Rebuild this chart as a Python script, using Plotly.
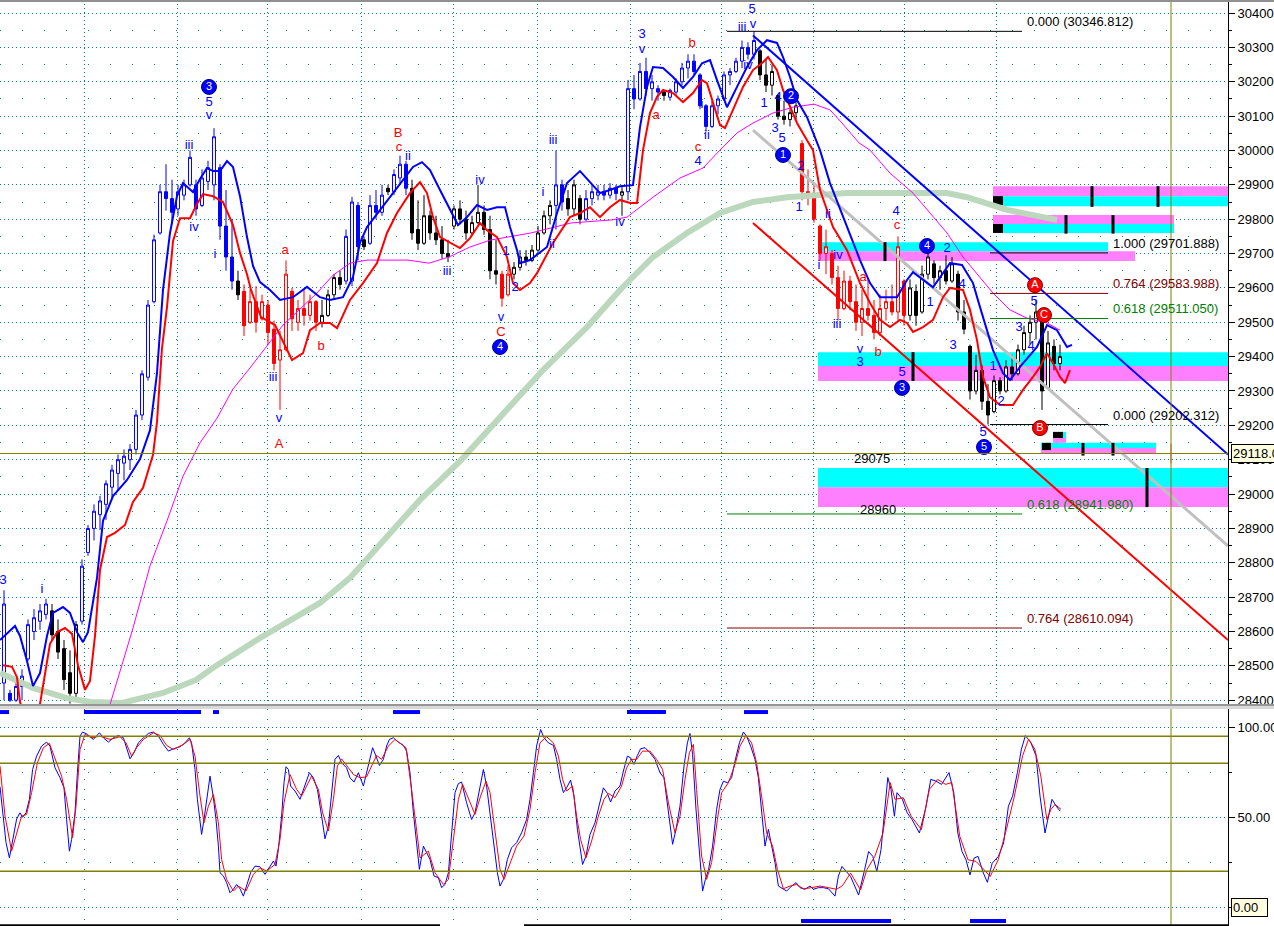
import plotly.graph_objects as go

FONT = "Liberation Sans, Arial, sans-serif"
TEAL = "#008080"
OLIVE = "#808000"
CYAN = "#00ffff"
PINK = "#ff80ff"

# ---------------- price bars: one candle every 3 time steps ----------------
OPEN = [28450, 28420, 28400, 28440, 28520, 28600, 28630, 28650, 28660, 28600,
        28550, 28480, 28420, 28630, 28830, 28900, 28940, 28970, 29020, 29060,
        29090, 29100, 29130, 29230, 29340, 29560, 29760, 29880, 29860, 29830,
        29870, 29900, 29900, 29840, 29910, 29900, 29950, 29780, 29690, 29620,
        29590, 29500, 29560, 29510, 29550, 29480, 29390, 29420, 29590, 29500,
        29540, 29520, 29560, 29500, 29520, 29580, 29630, 29620, 29620, 29840,
        29740, 29730, 29840, 29820, 29890, 29880, 29920, 29960, 29890, 29770,
        29730, 29810, 29760, 29740, 29700, 29780, 29830, 29800, 29760, 29790,
        29820, 29770, 29650, 29640, 29580, 29640, 29660, 29690, 29680, 29710,
        29760, 29810, 29840, 29900, 29860, 29830, 29860, 29800, 29860, 29870,
        29880, 29870, 29890, 29870, 29880, 30180, 30150, 30230, 30180, 30180,
        30170, 30155, 30170, 30200, 30240, 30260, 30220, 30130, 30070, 30130,
        30150, 30220, 30230, 30260, 30300, 30280, 30290, 30220, 30190, 30160,
        30100, 30090, 30110, 30020, 29880, 29870, 29780, 29700, 29700, 29630,
        29540, 29620, 29560, 29500, 29540, 29520, 29470, 29540, 29560, 29530,
        29620, 29520, 29590, 29530, 29640, 29670, 29630, 29650, 29620, 29640,
        29530, 29430, 29300, 29360, 29270, 29240, 29330, 29300, 29370, 29350,
        29420, 29470, 29500, 29510, 29310, 29430, 29380]
HIGH = [28720, 28430, 28460, 28490, 28635, 28665, 28680, 28695, 28680, 28635,
        28575, 28545, 28630, 28810, 28910, 28970, 28995, 29040, 29085, 29115,
        29130, 29145, 29245, 29360, 29565, 29755, 29900, 29960, 29915, 29900,
        29915, 30000, 29915, 29945, 29970, 30065, 29960, 29885, 29800, 29650,
        29610, 29595, 29605, 29580, 29565, 29505, 29475, 29680, 29600, 29565,
        29595, 29580, 29565, 29565, 29595, 29640, 29650, 29770, 29865, 29850,
        29750, 29870, 29885, 29900, 29900, 29945, 29985, 29970, 29915, 29855,
        29870, 29825, 29810, 29780, 29740, 29840, 29855, 29825, 29810, 29900,
        29840, 29810, 29740, 29650, 29665, 29675, 29710, 29710, 29725, 29780,
        29825, 29855, 30000, 29915, 29885, 29915, 29870, 29885, 29900, 29900,
        29900, 29905, 29900, 29900, 30205, 30220, 30255, 30270, 30220, 30190,
        30175, 30180, 30210, 30255, 30280, 30280, 30225, 30135, 30145, 30160,
        30230, 30240, 30270, 30320, 30315, 30346.8, 30295, 30265, 30250, 30165,
        30145, 30120, 30145, 30030, 29945, 29900, 29785, 29770, 29710, 29665,
        29650, 29635, 29610, 29595, 29625, 29565, 29580, 29595, 29610, 29750,
        29625, 29625, 29610, 29665, 29710, 29680, 29665, 29695, 29690, 29650,
        29565, 29435, 29405, 29375, 29320, 29345, 29340, 29390, 29405, 29435,
        29490, 29520, 29565, 29520, 29475, 29450, 29435]
LOW = [28400, 28395, 28395, 28400, 28515, 28575, 28605, 28635, 28575, 28520,
       28430, 28390, 28395, 28620, 28820, 28865, 28895, 28925, 28985, 29010,
       29040, 29070, 29115, 29215, 29330, 29555, 29755, 29825, 29785, 29810,
       29855, 29895, 29810, 29835, 29885, 29855, 29740, 29650, 29595, 29565,
       29460, 29495, 29470, 29505, 29435, 29360, 29245, 29415, 29475, 29475,
       29490, 29505, 29475, 29485, 29515, 29565, 29595, 29610, 29605, 29680,
       29710, 29725, 29800, 29810, 29870, 29870, 29900, 29870, 29740, 29710,
       29725, 29740, 29725, 29685, 29675, 29770, 29785, 29740, 29755, 29785,
       29755, 29625, 29610, 29545, 29575, 29625, 29650, 29665, 29675, 29705,
       29755, 29785, 29770, 29825, 29810, 29810, 29785, 29795, 29840, 29855,
       29855, 29860, 29855, 29810, 29855, 30120, 30145, 30160, 30145, 30145,
       30145, 30145, 30160, 30190, 30210, 30220, 30120, 30055, 30065, 30105,
       30145, 30190, 30225, 30240, 30265, 30265, 30205, 30170, 30160, 30090,
       30075, 30070, 30090, 29855, 29840, 29790, 29680, 29640, 29610, 29505,
       29535, 29535, 29475, 29460, 29505, 29450, 29460, 29505, 29520, 29505,
       29490, 29505, 29490, 29525, 29625, 29610, 29595, 29610, 29615, 29505,
       29465, 29275, 29290, 29245, 29202.3, 29235, 29290, 29295, 29330, 29345,
       29405, 29435, 29450, 29245, 29305, 29360, 29360]
CLOSE = [28680, 28400, 28440, 28470, 28620, 28640, 28660, 28680, 28590, 28540,
         28460, 28420, 28620, 28790, 28900, 28950, 28980, 29030, 29070, 29100,
         29110, 29130, 29230, 29350, 29550, 29740, 29880, 29860, 29820, 29880,
         29900, 29980, 29830, 29920, 29950, 30040, 29780, 29690, 29620, 29580,
         29490, 29560, 29500, 29560, 29470, 29380, 29420, 29640, 29510, 29540,
         29520, 29560, 29500, 29520, 29580, 29630, 29610, 29750, 29850, 29720,
         29720, 29840, 29820, 29870, 29880, 29930, 29960, 29890, 29760, 29730,
         29810, 29760, 29740, 29700, 29690, 29830, 29800, 29760, 29790, 29820,
         29770, 29650, 29640, 29570, 29640, 29660, 29690, 29680, 29710, 29760,
         29810, 29840, 29900, 29850, 29830, 29900, 29800, 29860, 29880, 29880,
         29870, 29890, 29875, 29880, 30180, 30150, 30230, 30180, 30200, 30170,
         30160, 30175, 30200, 30240, 30260, 30230, 30130, 30070, 30130, 30150,
         30220, 30230, 30260, 30300, 30280, 30320, 30220, 30190, 30230, 30100,
         30090, 30110, 30130, 29880, 29870, 29800, 29700, 29720, 29630, 29540,
         29620, 29560, 29500, 29540, 29520, 29470, 29540, 29560, 29530, 29720,
         29520, 29600, 29520, 29640, 29690, 29630, 29650, 29620, 29670, 29530,
         29480, 29300, 29360, 29270, 29230, 29330, 29300, 29370, 29350, 29420,
         29470, 29500, 29530, 29300, 29440, 29380, 29400]
# trend colour of each run of candles (first bar, last bar, colour)
BAR_COLOURS = [(0, 7, "blue"), (8, 12, "black"), (13, 38, "blue"), (39, 39, "black"),
               (40, 52, "red"), (53, 56, "black"), (57, 59, "blue"), (60, 60, "black"),
               (61, 63, "blue"), (64, 64, "black"), (65, 67, "blue"), (68, 82, "black"),
               (83, 84, "red"), (85, 91, "black"), (92, 93, "blue"), (94, 96, "black"),
               (97, 102, "blue"), (103, 103, "black"), (104, 109, "blue"), (110, 110, "black"),
               (111, 125, "blue"), (126, 132, "black"), (133, 150, "red"), (151, 176, "black")]

# ---------------- moving averages ----------------
BLUE_MA_T = [0, 5, 7.5, 10, 13.5, 16.5, 20, 23.5, 26.5, 31.5, 35, 38.5, 41.5, 44, 48.5, 51.5,
             56.5, 63.5, 70, 75, 78.5, 81.5, 85, 88.5, 91.5, 96.5, 100, 103.5, 106.5, 110,
             113.5, 116.5, 120, 123.5, 126.5, 130, 135, 140, 146.5, 153.5, 160, 165, 171.5,
             176.5, 180, 183.5, 190, 195, 200, 206.5, 211, 215, 220, 225, 229, 233.5, 238.5,
             243.5, 248.5, 252.5, 255, 258.5, 260, 265, 273.5, 278.5, 283.5, 290, 295, 300,
             305, 310, 316.5, 320, 323.5, 326.5, 331.5, 336.5, 341.5, 346.5, 351, 355, 358.5,
             363.5, 368.5, 373.5, 378.5, 383.5, 388.5, 391.5, 395, 398.5, 403.5, 410, 415,
             423.5, 430, 435, 440, 445, 448.5, 453.5, 456.5, 466.5, 475, 481, 486.5, 490,
             496.5, 501.5, 505, 510, 518.5, 523.5, 528.5, 533.5, 536]
BLUE_MA = [28575, 28604, 28616, 28587, 28514, 28441, 28479, 28587, 28654, 28671, 28654, 28598,
           28569, 28598, 28756, 28922, 28994, 29041, 29102, 29186, 29352, 29594, 29760, 29867,
           29905, 29879, 29917, 29949, 29940, 29940, 29969, 29952, 29867, 29748, 29664, 29617,
           29594, 29565, 29573, 29603, 29573, 29565, 29573, 29632, 29731, 29777, 29827, 29864,
           29905, 29952, 29966, 29943, 29885, 29827, 29783, 29806, 29841, 29827, 29835, 29835,
           29777, 29710, 29672, 29681, 29719, 29818, 29905, 29940, 29908, 29876, 29885, 29896,
           29899, 30068, 30185, 30243, 30240, 30214, 30182, 30214, 30254, 30263, 30205, 30126,
           30185, 30243, 30292, 30321, 30313, 30272, 30214, 30147, 30097, 30001, 29905, 29777,
           29681, 29614, 29573, 29573, 29573, 29623, 29646, 29602, 29672, 29667, 29614, 29544,
           29419, 29352, 29332, 29370, 29428, 29492, 29477, 29428, 29434]
RED_MA_T = [1.5, 6, 8.5, 10, 15, 20, 25, 28.5, 32.5, 36, 39, 42.5, 45, 47.5, 50, 53.5, 57.5,
            62.5, 66.5, 71.5, 76.5, 78.5, 81, 83.5, 86.5, 90, 95, 98.5, 101.5, 106.5, 111.5,
            116.5, 120, 123.5, 125.5, 130.5, 137.5, 143, 146, 151.5, 155, 160, 165, 168.5, 175,
            181.5, 188.5, 193.5, 198.5, 205, 210, 213.5, 216.5, 220, 225, 230, 235, 240, 243.5,
            248.5, 253.5, 256.5, 260, 265, 268.5, 276.5, 285, 290, 295, 300, 305, 310, 315,
            318.5, 321.5, 325, 328.5, 331.5, 336.5, 341.5, 346.5, 351, 353.5, 356.5, 360,
            362.5, 366.5, 371.5, 376.5, 381.5, 384, 388.5, 391.5, 395, 398.5, 403.5, 406.5,
            410, 416.5, 423.5, 430, 435, 440, 445, 450, 453.5, 456.5, 461.5, 466.5, 471.5,
            475, 481.5, 485, 488.5, 491.5, 495, 500, 506.5, 511.5, 516.5, 520, 523.5, 526.5,
            530, 532.5, 535]
RED_MA = [28502, 28497, 28467, 28395, 28310, 28389, 28564, 28598, 28610, 28593, 28502, 28430,
          28456, 28587, 28779, 28875, 28887, 28910, 28977, 29018, 29114, 29210, 29425, 29544,
          29736, 29803, 29803, 29844, 29873, 29867, 29850, 29783, 29702, 29640, 29594, 29515,
          29492, 29428, 29390, 29410, 29477, 29498, 29498, 29483, 29565, 29614, 29672, 29760,
          29818, 29876, 29908, 29876, 29806, 29748, 29731, 29716, 29745, 29789, 29768, 29748,
          29690, 29614, 29594, 29614, 29643, 29731, 29806, 29818, 29835, 29806, 29835, 29856,
          29847, 29847, 30001, 30109, 30156, 30176, 30167, 30141, 30167, 30205, 30196, 30138,
          30074, 30065, 30118, 30185, 30234, 30257, 30272, 30234, 30176, 30126, 30080, 30030,
          30001, 29885, 29777, 29710, 29614, 29556, 29507, 29486, 29507, 29498, 29472, 29486,
          29507, 29573, 29600, 29594, 29536, 29448, 29341, 29282, 29259, 29259, 29303, 29341,
          29370, 29410, 29381, 29341, 29323, 29361]
MAGENTA_T = [50, 55, 66.5, 75, 83.5, 91.5, 100, 108.5, 116.5, 125, 141.5, 158.5, 166.5, 175,
             183.5, 204, 214.5, 224.5, 235, 245, 265.5, 285.5, 306, 313.5, 326.5, 340, 351.5,
             360, 368.5, 376.5, 386.5, 396.5, 403.5, 407, 415, 421, 429.5, 435, 445, 456.5,
             465, 473.5, 481.5, 490, 496.5, 505, 513.5, 523.5, 530]
MAGENTA = [28290, 28389, 28610, 28791, 28922, 29052, 29149, 29221, 29306, 29367, 29492, 29585,
           29637, 29672, 29681, 29681, 29672, 29690, 29719, 29739, 29760, 29789, 29798, 29806,
           29864, 29920, 29949, 30001, 30051, 30080, 30109, 30126, 30132, 30135, 30118, 30080,
           30022, 30001, 29934, 29876, 29818, 29760, 29690, 29632, 29585, 29536, 29512, 29498,
           29477]
GREEN_T = [0, 16.5, 33.5, 45, 61, 81.5, 98, 108.5, 130, 140, 160, 175, 190, 210, 230.5, 255,
           271.5, 293.5, 310, 326.5, 343.5, 360, 376.5, 393.5, 406.5, 423.5, 440, 456.5, 473.5,
           483.5, 493.5, 503.5, 516.5, 528.5]
GREEN = [28479, 28436, 28406, 28395, 28392, 28421, 28459, 28502, 28581, 28616, 28683, 28756,
         28852, 28983, 29099, 29253, 29361, 29486, 29594, 29690, 29760, 29818, 29850, 29864,
         29870, 29876, 29876, 29876, 29876, 29864, 29847, 29827, 29812, 29798]

# ---------------- channel lines ----------------
TREND_T = [376.5, 614]
TREND_BLUE = [30335, 29115]
TREND_GREY = [30059, 28849]
TREND_RED = [29789, 28575]

# ---------------- fibonacci levels ----------------
FIB_LEFT_T = [363.5, 511]
FIB_LEFT = [("0.000", 30346.812, "#000000"), ("0.618", 28941.980, "#008000"),
            ("0.764", 28610.094, "#800000")]
FIB_RIGHT_T = [495, 554]
FIB_RIGHT = [("1.000", 29701.888, "#000000"), ("0.764", 29583.988, "#800000"),
             ("0.618", 29511.050, "#008000"), ("0.000", 29202.312, "#000000")]

# ---------------- target zones ----------------
ZONES = [(409, 614, 29020, 29076, CYAN), (409, 614, 28962, 29020, PINK),
         (409, 614, 29373, 29413, CYAN), (409, 614, 29329, 29373, PINK),
         (409, 554, 29707, 29733, CYAN), (409, 567.5, 29678, 29707, PINK),
         (496.5, 614, 29867, 29896, PINK), (496.5, 614, 29838, 29867, CYAN),
         (496.5, 587, 29786, 29812, PINK), (496.5, 587, 29760, 29786, CYAN),
         (520.5, 578, 29134, 29149, CYAN), (520.5, 578, 29117, 29134, PINK),
         (526.5, 533, 29149, 29163, PINK), (531.5, 533, 29163, 29181, CYAN)]
ZONE_SQUARES = [(496.5, 501.5, 29841, 29867), (496.5, 501.5, 29760, 29786),
                (521, 525.5, 29128, 29149), (526.5, 531.5, 29163, 29181)]
ZONE_MARK_T = [442.5, 456.5, 573.5, 546, 579, 533, 556.5, 541.5, 556.5]
ZONE_MARK_LO = [29678, 29329, 28962, 29836, 29836, 29758, 29758, 29112, 29112]
ZONE_MARK_HI = [29733, 29413, 29076, 29896, 29896, 29812, 29812, 29149, 29149]

# ---------------- wave labels ----------------
BLUE_LBL = ["3", "i", "5", "v", "iii", "iv", "i", "i", "iii", "v", "ii", "i", "iii", "iv", "v",
            "1", "2", "i", "iii", "ii", "iv", "3", "v", "i", "ii", "4", "5", "v", "iii", "iv",
            "1", "4", "3", "5", "2", "1", "ii", "i", "iv", "iii", "v", "3", "4", "5", "1", "2",
            "4", "3", "1", "2", "5", "3", "4", "5"]
BLUE_LBL_T = [1.5, 21, 104.5, 104.5, 94.5, 97, 110, 107.5, 136.5, 139.5, 204, 203, 223.5, 240,
              250.5, 253, 257.5, 271.5, 276.5, 276, 310, 321, 321, 351, 353.5, 349, 376, 376.5,
              371, 374, 382, 389, 387.5, 391, 400.5, 399.5, 414, 409.5, 419, 418.5, 430, 430,
              448, 451, 465, 473.5, 481, 476.5, 496.5, 500.5, 491.5, 509.5, 515.5, 517]
BLUE_LBL_P = [28747, 28721, 30138, 30100, 30013, 29774, 29865, 29696, 29338, 29218, 29981, 29914,
              29646, 29911, 29512, 29704, 29600, 29876, 30027, 29725, 29789, 30336, 30292, 30132,
              30042, 29966, 30409, 30365, 30356, 30246, 30135, 30153, 30062, 30033, 29952, 29832,
              29812, 29664, 29693, 29492, 29419, 29381, 29821, 29352, 29556, 29713, 29608, 29431,
              29370, 29268, 29178, 29483, 29428, 29559]
RED_LBL = ["A", "a", "b", "B", "c", "C", "a", "b", "c", "a", "b", "c"]
RED_LBL_T = [139.5, 142.5, 160.5, 199, 199.5, 250.5, 328, 346, 349, 431.5, 439, 448.5]
RED_LBL_P = [29143, 29707, 29428, 30048, 30007, 29470, 30100, 30310, 30007, 29629, 29410, 29780]
CIRC_BLUE = ["3", "4", "1", "2", "3", "4", "5"]
CIRC_BLUE_T = [104.5, 250, 391.5, 395.5, 451, 463.5, 492]
CIRC_BLUE_P = [30185, 29428, 29987, 30158, 29309, 29722, 29137]
CIRC_RED = ["A", "C", "B"]
CIRC_RED_T = [517.5, 522, 520]
CIRC_RED_P = [29608, 29521, 29192]

# ---------------- stochastic oscillator ----------------
STOCH_K_T = [0, 1.7, 3, 4.7, 6.3, 8.3, 10, 11.3, 13, 14.7, 16.3, 18.3, 20.8, 23.3, 25, 27.5, 30,
             32, 33.3, 34.7, 35.8, 37.5, 38.7, 40, 41.3, 43.7, 46.7, 49.7, 51.7, 54.2, 56.7, 59.2,
             61.7, 63.3, 65, 67, 69.2, 71.7, 74.2, 76.7, 79.2, 81.7, 84.2, 86.7, 90, 92.5, 94.7,
             95.8, 97.5, 98.7, 100, 100.8, 102, 103.3, 105, 106.7, 108, 109.2, 110, 111.7, 113.3,
             115, 116.7, 118.3, 120, 121.7, 123.3, 125.3, 127.5, 130, 132.5, 134.7, 136.7, 138,
             139.2, 140.8, 142, 143, 144.2, 145.3, 147.5, 150, 152.5, 154.7, 156.7, 158.7, 160.8,
             162.5, 164.2, 165.8, 167.5, 169.2, 170.8, 173.3, 175, 177, 179.2, 181.7, 183.3, 185,
             186.3, 188, 189.7, 191.7, 193.3, 194.7, 196.7, 199.2, 201.7, 203.3, 205, 206.7,
             208.3, 209.7,
             211.7, 213.3, 215, 217, 219.2, 220.8, 222.5, 224.2, 225.8, 227.5, 229.2, 230.8, 233.3,
             235.8, 237.5, 239.7, 241.7, 243.3, 245.3, 247, 248.7, 250, 251.7, 253.7, 255.8, 258.3,
             260.8, 263.3, 265, 266.7, 268.3, 270.3, 272, 274.2, 276.7, 278.3, 280, 281.7, 283.3,
             285.3, 287, 288.7, 290, 291.3, 293, 295, 297.5, 300, 301.7, 303.7, 305.3, 307.5, 310,
             311.7, 313.7, 315.3, 317, 318.7, 320.3, 322.5, 325, 327.5, 330, 332, 333.7, 335.3,
             336.3, 338, 340, 342, 343.7, 345, 346.3, 348, 349.7, 351.3, 352.7, 354.3, 356.3,
             358.3, 360, 361.7, 363.7, 365.8, 367.5, 369.7, 371.7, 373.3, 375.3, 377.5, 379.2,
             380.8, 382.5, 384.2, 385.8, 387.5, 389.2, 391.7, 393.3, 395.8, 398, 400, 402.5, 405,
             406.7, 409.2, 411.7, 414.2, 415.8, 417.5, 419.2,
             421, 425.3, 429.3, 432.3, 434.3, 436.4, 438.4, 440.5, 442.5, 443.9, 445.5, 447.2,
             448.5, 451.2, 453.6, 456, 459.7, 462.7, 465.4, 467.8, 470.8, 474.5, 476.9, 478.9,
             481, 483, 485, 487, 489, 491.7, 493.7, 496.1, 499.2, 501.8, 504.2, 506.3, 508.7,
             510.7, 512.7, 515.4, 518, 520, 522.5, 524.5, 526, 528.1, 530.1]
STOCH_K = [67, 51, 36, 27.5, 38, 49, 52.5, 50, 52.5, 60, 76.6, 84, 89.6, 91.8, 89.6, 77.5, 72,
           66.4, 48.8, 31.2, 37.7, 52.5, 74.8, 95.1, 97.4, 96.1, 93.3, 97, 94.2, 91.8, 94.2, 95.5,
           94.2, 88.7, 82.5, 85.9, 91.4, 94.2, 96.6, 97.4, 95.1, 90.5, 86.8, 88.1, 89.2, 91.4,
           94.2, 91.4, 76.6, 60, 47, 40.5, 48.8, 58.1, 72.9, 60.9, 48.8, 34, 19.2, 17.4, 13.7,
           8.1, 10, 12.7, 10.3, 6.2, 11.8, 19.2, 22.9, 22.5, 18.3, 22, 25.7, 22.9, 32.2, 50.7,
           69.2, 78.1, 76.6, 67.4, 64.6, 60, 67.4, 74.8, 72, 65.5, 50.7, 38.1, 45.1, 63.7, 82.2,
           84.4, 80.3, 77.5, 72, 69.6, 74.8, 67.4, 74.8, 84, 88.7, 84, 78.8, 82.2, 89.6, 93.3,
           94.2, 91.8, 90, 86.8, 74.8, 52.5, 34, 21.1,
           34, 30.3, 26.6, 17.4, 16.4, 10.9, 12.7, 19.2, 41.4, 63.7, 68.8, 69.6, 58.1, 48.8, 52.5,
           65.5, 76.6, 67.4, 50.7, 34, 19.2, 11.8, 15.5, 26.6, 33.1, 35.9, 41.4, 48.8, 60, 74.8,
           89.6, 98.8, 94.2, 91.4, 90, 82.2, 71.1, 63.7, 66.4, 70.7, 61.8, 43.3, 32.2, 23.8, 28.5,
           40.5, 47, 58.1, 66.4, 63.3, 58.5, 64.6, 67.4, 75.7, 84, 83.1, 79.4, 84.4, 88.1, 88.7,
           85.9, 82.2, 74.8, 72, 56.2, 43.3, 35, 43.3, 56.2, 78.5, 91.4, 96.6, 84.9, 54.4, 28.5,
           9, 15.5, 21.1, 34, 54.4, 65.5, 70.1, 69.2, 72, 81.2, 91.4, 97.4, 95.1, 89.6, 82.2, 72,
           52.5, 34, 43.3, 34, 24.8, 11.8, 10, 9, 11.8, 13.7, 10.9, 10, 11.8, 10, 10.9, 10.9,
           10.3, 8.1, 6.2, 17.4,
           22.7, 17.1, 6.8, 20.8, 31, 28.3, 19.9, 32, 58.1, 72.1, 65.5, 50.6, 63.7, 60, 52.5,
           48.8, 41.3, 54.4, 71.1, 70.2, 68.3, 74.9, 63.7, 41.3, 31, 26.4, 18, 27.3, 28.3, 19,
           13.9, 24.5, 28.3, 35.7, 56.2, 61.8, 74.9, 87.9, 95.4, 91.6, 84.2, 61.8, 41.3, 51.6,
           60, 56.2, 53.4]
STOCH_D_T = [0, 2.5, 5.8, 8.3, 10.8, 13.3, 15.8, 18.7, 21.7, 24.7, 27.5, 30.8, 33.3, 36.3, 38,
             40, 42.5, 45.8, 50, 55, 60, 63, 65.8, 68.3, 71.7, 76.7, 80, 83.3, 86.7, 91.7, 95,
             97.5, 100, 102, 104.2, 106.7, 109.2, 110.8, 113.3, 116.7, 119.2, 123, 126.7, 130,
             133.3, 137.5, 140, 142, 145, 148.3, 150.8, 155.8, 159.2, 161.3, 164.2, 166.7, 168.7,
             170.8, 174.2, 176.7, 180, 183.3, 185.8, 188.3, 190.8, 194.2, 197.5, 200, 203, 205.8,
             208.3,
             210, 214.2, 217.5, 221.7, 224.2, 226.7, 229.2, 231.3, 234.2, 237.5, 240.3, 243, 245,
             247.5, 250, 252, 255, 258.3, 262, 265, 267.5, 270, 273.3, 276.7, 279.2, 281.3, 283.3,
             286.3, 288.3, 290.3, 293, 295.8, 299.2, 302, 304.2, 307.5, 310.8, 313.3, 315.8,
             318.3, 321.3, 325, 328.3, 331.3, 334.2, 337.5, 340, 342.5, 344.7, 346.7, 348.3,
             350.8, 353.3, 355.8, 358.7, 360.8, 364.2, 367.5, 370, 373, 375.8, 378.3, 380.8,
             383.3, 386.3, 388.7, 391.7, 395, 398.3, 401.7, 405.8, 410, 414.2, 418.3,
             421.2, 425.3, 430.3, 433.4, 437.4, 441.5, 445.1, 447.5, 451.6, 455.6, 460.7, 464.7,
             468.8, 472.8, 475.9, 479.9, 484, 488, 492.1, 495.1, 499.1, 503.2, 507.2, 511.3,
             514.3, 517.4, 520.4, 523.4, 525.5, 527.5, 530.5]
STOCH_D = [78.5, 50.7, 31.2, 41.4, 50.7, 51.6, 63.7, 80.3, 88.7, 91.1, 82.2, 72.9, 60, 38.7,
           56.2, 87.7, 96.1, 94.2, 95.1, 93.3, 94.8, 91.4, 84, 88.7, 93.3, 97, 95.5, 90, 87.7,
           90.5, 93.3, 84, 61.8, 47, 56.2, 62.7, 47, 26.6, 15.5, 9, 11.8, 9, 18.3, 22, 20.1, 23.8,
           37.7, 58.1, 73.8, 65.5, 61.8, 72.9, 65.5, 52.5, 42.4, 60, 78.5, 82.5, 77.5, 73.8, 72,
           72.5, 78.5, 84.4, 82.2, 89.6, 93.3, 91.4, 88.7, 65.5, 41.4,
           27.5, 31.2, 19.2, 12.7, 15.5, 37.7, 60, 68.3, 60, 51.6, 61.8, 70.1, 63.7, 41.4, 21.1,
           15.5, 24.8, 34, 39.6, 54.4, 74.8, 91.4, 94.8, 91.4, 84, 71.1, 64.6, 67.4, 50.7, 37.7,
           27.5, 36.8, 50.7, 60, 63.3, 60.9, 67.4, 77.5, 82.2, 82.2, 86.8, 86.8, 82.2, 76.6, 58.1,
           41.4, 50.7, 71.1, 85.9, 90.5, 65.5, 28.5, 15.5, 24.8, 48.8, 63.7, 69.2, 79.4, 89.6,
           95.5, 91.4, 80.3, 61.8, 41.4, 34, 21.1, 10.3, 11.8, 12.7, 10.3, 10.9, 11.8, 10.9, 10,
           12, 19, 9.6, 20.8, 28.3, 41.3, 69.3, 60, 60.9, 50.6, 43.2, 65.5, 71.1, 68.3, 69.3,
           39.4, 26.4, 25.5, 20.8, 17.1, 26.4, 43.2, 61.8, 84.2, 93.5, 87.9, 73, 48.8, 54.4,
           57.2, 54.4]
OVERBOUGHT_RUNS = [(0, 4.5), (42, 100.5), (106.5, 109.5), (196.5, 210), (313.5, 333), (372, 384)]
OVERSOLD_RUNS = [(400.5, 445.5), (485, 503)]
STOCH_LEVELS = [95, 80, 20]

# session separators (time index) and cursor
DAY_T = [42, 88.5, 133.5, 180.5, 226.5, 268.5, 315, 360.5, 406.5, 452, 498]
CURSOR_T = 585.5
LAST_PRICE = 29118

T_BARS = list(range(2, 2 + 3 * len(CLOSE), 3))

fig = go.Figure()

# target zones, under the bars
for t0, t1, lo, hi, col in ZONES:
    fig.add_shape(type="rect", xref="x", yref="y", x0=t0, x1=t1, y0=lo, y1=hi,
                  fillcolor=col, line_width=0, layer="between")
for t0, t1, lo, hi in ZONE_SQUARES:
    fig.add_shape(type="rect", xref="x", yref="y", x0=t0, x1=t1, y0=lo, y1=hi,
                  fillcolor="black", line_width=0, layer="between")

fig.add_trace(go.Scatter(x=GREEN_T, y=GREEN, mode="lines",
                         line=dict(color="#bcd8bc", width=6), hoverinfo="skip"))
fig.add_trace(go.Scatter(x=MAGENTA_T, y=MAGENTA, mode="lines",
                         line=dict(color="#ff00ff", width=1), hoverinfo="skip"))

# candles split by trend colour
for col in ("blue", "red", "black"):
    idx = [i for s, e, c in BAR_COLOURS if c == col for i in range(s, e + 1)]
    fig.add_trace(go.Candlestick(
        x=[T_BARS[i] for i in idx], open=[OPEN[i] for i in idx],
        high=[HIGH[i] for i in idx], low=[LOW[i] for i in idx],
        close=[CLOSE[i] for i in idx],
        increasing=dict(line=dict(color=col, width=1), fillcolor="white"),
        decreasing=dict(line=dict(color=col, width=1), fillcolor=col),
        whiskerwidth=0, hoverinfo="skip", showlegend=False))

fig.add_trace(go.Scatter(x=TREND_T, y=TREND_GREY, mode="lines",
                         line=dict(color="#c0c0c0", width=3), hoverinfo="skip"))
fig.add_trace(go.Scatter(x=TREND_T, y=TREND_RED, mode="lines",
                         line=dict(color="#ff0000", width=2), hoverinfo="skip"))
fig.add_trace(go.Scatter(x=TREND_T, y=TREND_BLUE, mode="lines",
                         line=dict(color="#0000ff", width=2), hoverinfo="skip"))
fig.add_trace(go.Scatter(x=BLUE_MA_T, y=BLUE_MA, mode="lines",
                         line=dict(color="#0000ff", width=2), hoverinfo="skip"))
fig.add_trace(go.Scatter(x=RED_MA_T, y=RED_MA, mode="lines",
                         line=dict(color="#ff0000", width=2), hoverinfo="skip"))

# fibonacci levels
annos = []
for xs, levels, lab_t in ((FIB_LEFT_T, FIB_LEFT, 512.5), (FIB_RIGHT_T, FIB_RIGHT, 555.5)):
    for name, val, col in levels:
        fig.add_trace(go.Scatter(x=xs, y=[val, val], mode="lines",
                                 line=dict(color=col, width=1), hoverinfo="skip"))
        annos.append(dict(x=lab_t, y=val, xref="x", yref="y", xanchor="left", yanchor="bottom",
                          text=f"{name} ({val:.3f})", showarrow=False,
                          font=dict(family=FONT, size=13, color=col)))
annos.append(dict(x=436, y=29076, xref="x", yref="y", yanchor="bottom", text="29075",
                  showarrow=False, font=dict(family=FONT, size=13, color="black")))
annos.append(dict(x=439, y=28955, xref="x", yref="y", yanchor="middle", text="28960",
                  showarrow=False, font=dict(family=FONT, size=13, color="black")))

for t, lo, hi in zip(ZONE_MARK_T, ZONE_MARK_LO, ZONE_MARK_HI):
    fig.add_shape(type="line", xref="x", yref="y", x0=t, x1=t, y0=lo, y1=hi,
                  line=dict(color="black", width=3))

# wave labels
fig.add_trace(go.Scatter(x=BLUE_LBL_T, y=BLUE_LBL_P, text=BLUE_LBL, mode="text",
                         textfont=dict(family=FONT, size=13, color="#0000ff"), hoverinfo="skip"))
fig.add_trace(go.Scatter(x=RED_LBL_T, y=RED_LBL_P, text=RED_LBL, mode="text",
                         textfont=dict(family=FONT, size=13, color="#ff0000"), hoverinfo="skip"))
fig.add_trace(go.Scatter(x=CIRC_BLUE_T, y=CIRC_BLUE_P, text=CIRC_BLUE, mode="markers+text",
                         marker=dict(size=15, color="#0000ff", line=dict(color="#000080", width=1)),
                         textfont=dict(family=FONT, size=11, color="white"), hoverinfo="skip"))
fig.add_trace(go.Scatter(x=CIRC_RED_T, y=CIRC_RED_P, text=CIRC_RED, mode="markers+text",
                         marker=dict(size=15, color="#ff0000", line=dict(color="#800000", width=1)),
                         textfont=dict(family=FONT, size=11, color="white"), hoverinfo="skip"))

# cursor
fig.add_shape(type="line", xref="x", yref="y", x0=0, x1=614, y0=LAST_PRICE, y1=LAST_PRICE,
              line=dict(color=OLIVE, width=1))
fig.add_shape(type="line", xref="x", yref="paper", x0=CURSOR_T, x1=CURSOR_T, y0=0, y1=1,
              line=dict(color=OLIVE, width=1))
fig.add_trace(go.Scatter(x=[CURSOR_T], y=[LAST_PRICE], mode="markers",
                         marker=dict(symbol="cross-thin-open", size=14,
                                     line=dict(color="black", width=1)), hoverinfo="skip"))

# stochastic panel
for lvl in STOCH_LEVELS:
    fig.add_shape(type="line", xref="x2", yref="y2", x0=0, x1=614, y0=lvl, y1=lvl,
                  line=dict(color=OLIVE, width=1.5))
for t0, t1 in OVERBOUGHT_RUNS:
    fig.add_shape(type="rect", xref="x2", yref="y2", x0=t0, x1=t1, y0=107.4, y1=109.6,
                  fillcolor="#0000ff", line_width=0)
for t0, t1 in OVERSOLD_RUNS:
    fig.add_shape(type="rect", xref="x2", yref="y2", x0=t0, x1=t1, y0=-8.7, y1=-6.5,
                  fillcolor="#0000ff", line_width=0)
for t0, t1 in ((0, 220), (262, 614)):
    fig.add_shape(type="line", xref="x2", yref="y2", x0=t0, x1=t1, y0=-10, y1=-10,
                  line=dict(color="black", width=2))
fig.add_trace(go.Scatter(x=STOCH_K_T, y=STOCH_K, mode="lines", xaxis="x2", yaxis="y2",
                         line=dict(color="#0000ff", width=1), hoverinfo="skip"))
fig.add_trace(go.Scatter(x=STOCH_D_T, y=STOCH_D, mode="lines", xaxis="x2", yaxis="y2",
                         line=dict(color="#ff0000", width=1), hoverinfo="skip"))

# frame: top border and panel separator
fig.add_shape(type="line", xref="paper", yref="paper", x0=0, x1=1.04, y0=0.999, y1=0.999,
              line=dict(color="#909090", width=2))
fig.add_shape(type="rect", xref="paper", yref="paper", x0=0, x1=1.04, y0=1 - 709 / 926,
              y1=1 - 704 / 926, fillcolor="#d8d8d8", line_width=0)
fig.add_shape(type="line", xref="paper", yref="paper", x0=0, x1=1.04, y0=1 - 705 / 926,
              y1=1 - 705 / 926, line=dict(color="#808080", width=1.5))

annos.append(dict(x=1.0025, y=LAST_PRICE, xref="paper", yref="y", xanchor="left",
                  text="29118.00", showarrow=False, bgcolor="#ffffe0", bordercolor="black",
                  borderwidth=1, borderpad=1, font=dict(family=FONT, size=13, color="black")))
annos.append(dict(x=1.0025, y=0, xref="paper", yref="y2", xanchor="left", text="0.00  ",
                  showarrow=False, bgcolor="#ffffe0", bordercolor="black", borderwidth=1,
                  borderpad=1, font=dict(family=FONT, size=13, color="black")))

price_ticks = list(range(28400, 30401, 100))
fig.update_layout(
    width=1274, height=926, margin=dict(l=0, r=46, t=0, b=0, autoexpand=False),
    paper_bgcolor="white", plot_bgcolor="white", showlegend=False, hovermode=False,
    annotations=annos,
    xaxis=dict(domain=[0, 1], range=[0, 614], anchor="y", tickvals=DAY_T, showticklabels=False,
               ticks="", showgrid=True, gridcolor=TEAL, griddash="1px,3px", gridwidth=1,
               zeroline=False, showline=False, rangeslider=dict(visible=False),
               automargin=False),
    yaxis=dict(domain=[1 - 705 / 926, 1], range=[28386, 30438], side="right", anchor="x",
               tickvals=price_ticks, ticktext=[f"{v}.00" for v in price_ticks],
               ticks="outside", ticklen=6, tickcolor="black", automargin=False,
               tickfont=dict(family=FONT, size=13, color="black"),
               showline=True, linecolor="black", linewidth=1, zeroline=False,
               showgrid=True, gridcolor=TEAL, griddash="1px,3px", gridwidth=1,
               minor=dict(tickvals=list(range(28450, 30440, 100)), ticks="outside", ticklen=3,
                          tickcolor="black", showgrid=True, gridcolor=TEAL,
                          griddash="1px,21px")),
    xaxis2=dict(domain=[0, 1], range=[0, 614], anchor="y2", matches="x", tickvals=DAY_T,
                showticklabels=False, ticks="", showgrid=True, gridcolor=TEAL,
                griddash="1px,9px", zeroline=False, showline=False, automargin=False),
    yaxis2=dict(domain=[0, 1 - 709 / 926], range=[-10.4, 110.2], side="right", anchor="x2",
                tickvals=[0, 50, 100], ticktext=["", "50.00", "100.00"], ticks="outside",
                ticklen=6, tickcolor="black", tickfont=dict(family=FONT, size=13, color="black"),
                showline=True, linecolor="black", linewidth=1, zeroline=False,
                showgrid=True, gridcolor=TEAL, griddash="1px,3px", automargin=False,
                minor=dict(tickvals=[25, 75], ticks="outside", ticklen=3, tickcolor="black",
                           showgrid=True, gridcolor=TEAL, griddash="1px,21px")),
)

# page body margin would shift the figure; remove it so the chart fills the window
fig.write_html("out.html", config={"displayModeBar": False},
               post_script="document.body.style.margin='0';"
                           "document.body.style.overflow='hidden';"
                           "document.documentElement.style.overflow='hidden';")
